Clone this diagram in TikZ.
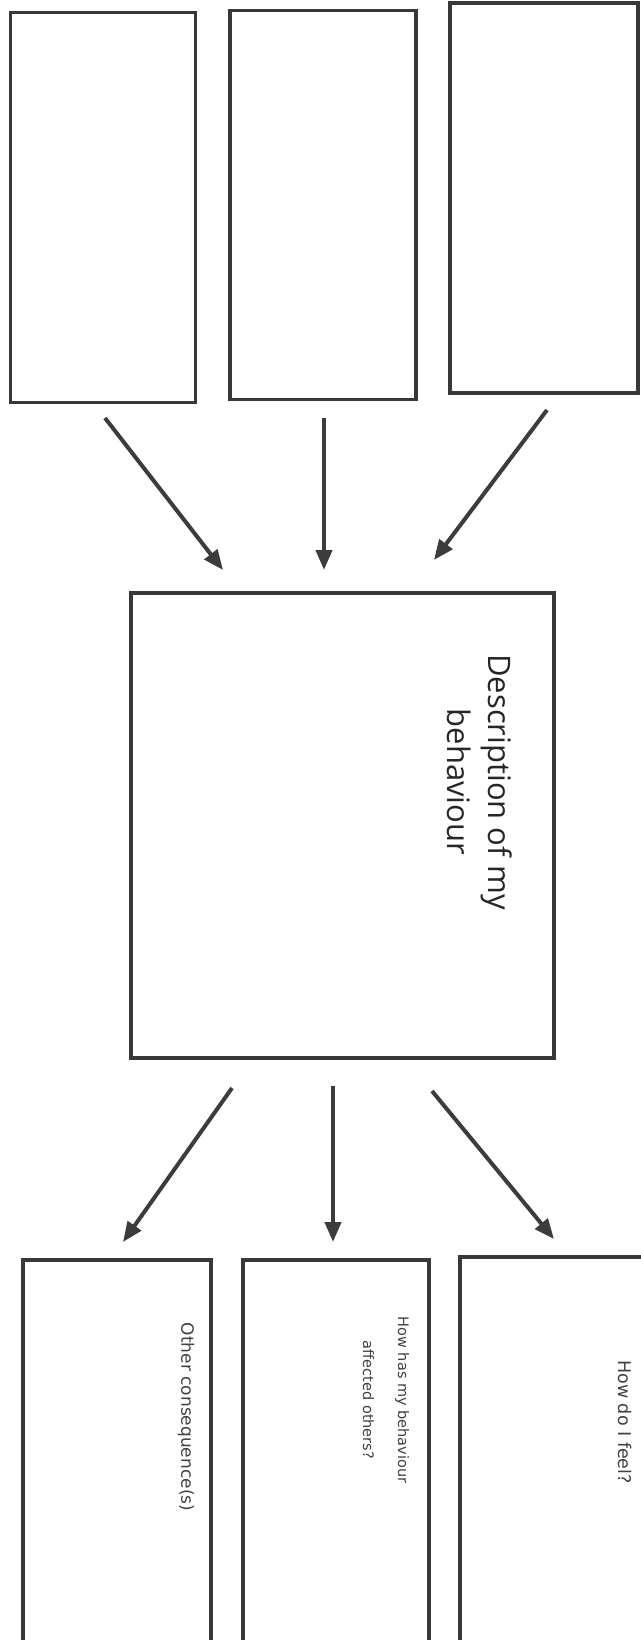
\documentclass[tikz,border=0pt]{standalone}
\usepackage{fontspec}
\setmainfont{Open Sans}
\newfontfamily\smallfont{DejaVu Sans}
\usetikzlibrary{arrows.meta}
\definecolor{ink}{HTML}{383838}
\definecolor{arrowink}{HTML}{3C3C3C}
\tikzset{
  box/.style={draw=ink, line width=3.2pt, fill=none, inner sep=0pt, anchor=center},
  flow/.style={draw=arrowink, line width=4pt, -{Triangle[length=20pt, width=16pt]}},
  bigtext/.style={rotate=-90, align=center, font=\fontsize{31}{41}\selectfont, text=black!85},
  smalltext/.style={rotate=-90, align=center, font=\smallfont\fontsize{14.5}{35}\selectfont, text=black!75}
}
\begin{document}
\begin{tikzpicture}[x=1pt, y=-1pt]
  \useasboundingbox (0,0) rectangle (640,1640);
  \fill[white] (0,0) rectangle (640,1640);
  % top boxes
  \node[box, minimum width=185pt, minimum height=390pt] (A) at (103,207.5) {};
  \node[box, minimum width=186pt, minimum height=389pt] (B) at (323,205) {};
  \node[box, minimum width=188pt, minimum height=390pt] (C) at (544,198) {};
  % central box
  \node[box, minimum width=423pt, minimum height=465pt] (M) at (342.5,825.5) {};
  \node[bigtext] (Mt) at (480,782) {Description of my\\behaviour};
  % bottom boxes
  \node[box, minimum width=188pt, minimum height=390pt] (D) at (117,1455) {};
  \node[box, minimum width=186pt, minimum height=390pt] (E) at (336,1455) {};
  \node[box, minimum width=186pt, minimum height=393pt] (F) at (553,1453.5) {};
  \node[smalltext, font=\smallfont\fontsize{17}{35}\selectfont] (Dt) at (186,1417) {Other consequence(s)};
  \node[smalltext] (Et) at (386,1400) {How has my behaviour\\affected others?};
  \node[smalltext, font=\smallfont\fontsize{17.5}{35}\selectfont] (Ft) at (625,1422) {How do I feel?};
  % arrow end points
  \coordinate (a1) at (105,418);  \coordinate (a2) at (223,570);
  \coordinate (b1) at (324,418);  \coordinate (b2) at (324,570);
  \coordinate (c1) at (547,410);  \coordinate (c2) at (434,560);
  \coordinate (d1) at (232,1088); \coordinate (d2) at (123,1242);
  \coordinate (e1) at (333,1086); \coordinate (e2) at (333,1242);
  \coordinate (f1) at (432,1091); \coordinate (f2) at (554,1239);
  \draw[flow] (a1) -- (a2);
  \draw[flow] (b1) -- (b2);
  \draw[flow] (c1) -- (c2);
  \draw[flow] (d1) -- (d2);
  \draw[flow] (e1) -- (e2);
  \draw[flow] (f1) -- (f2);
\end{tikzpicture}
\end{document}
